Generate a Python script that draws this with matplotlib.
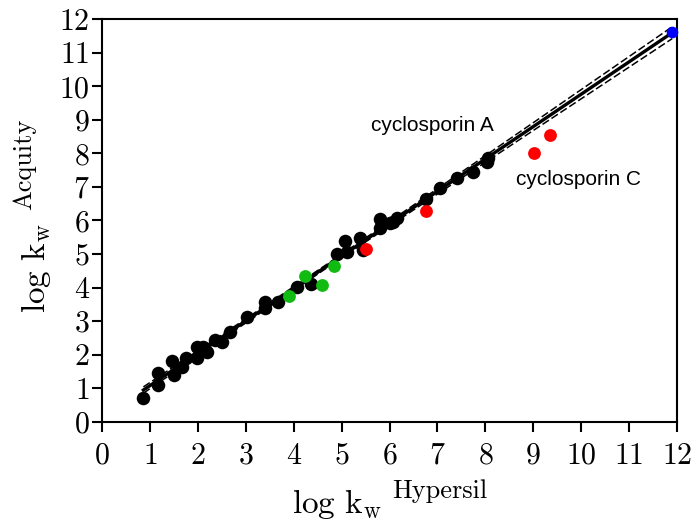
import numpy as np
import matplotlib
matplotlib.use("Agg")
import matplotlib.pyplot as plt

# log kw values
black_x = [0.86, 1.17, 1.17, 1.45, 1.49, 1.66, 1.76, 1.97, 1.97, 2.11, 2.18, 2.36, 2.50,
           2.67, 3.02, 3.40, 3.40, 3.68, 4.06, 4.36, 4.90, 5.07, 5.11, 5.38, 5.45,
           5.80, 5.80, 6.01, 6.15, 6.08, 6.76, 7.06, 7.40, 7.74, 8.04, 8.06]
black_y = [0.72, 1.09, 1.46, 1.81, 1.39, 1.64, 1.90, 2.24, 1.89, 2.24, 2.09, 2.44, 2.39,
           2.68, 3.11, 3.58, 3.38, 3.58, 4.01, 4.11, 4.99, 5.39, 5.07, 5.47, 5.12,
           6.05, 5.78, 5.92, 6.07, 5.96, 6.63, 6.96, 7.26, 7.46, 7.75, 7.86]
green_x = [3.89, 4.24, 4.58, 4.83]
green_y = [3.75, 4.35, 4.08, 4.64]
red_x = [5.50, 6.76, 9.02, 9.35]
red_y = [5.14, 6.28, 8.00, 8.55]
blue_x = [11.90]
blue_y = [11.63]

plt.rcParams['mathtext.fontset'] = 'cm'
plt.rcParams['axes.formatter.use_mathtext'] = True

fig = plt.figure(figsize=(6.97, 5.23), dpi=100)
ax = fig.add_axes([0.1466, 0.1937, 0.8247, 0.7695])

# regression through black, green and blue compounds (cyclosporins left out)
fx = np.array(black_x + green_x + blue_x)
fy = np.array(black_y + green_y + blue_y)
slope, icpt = np.polyfit(fx, fy, 1)
res = fy - (slope * fx + icpt)
n = len(fx)
s = np.sqrt(np.sum(res ** 2) / (n - 2))
sxx = np.sum((fx - fx.mean()) ** 2)
xx = np.linspace(fx.min(), fx.max(), 200)
yy = slope * xx + icpt
half = 2.0 * s * np.sqrt(1.0 / n + (xx - fx.mean()) ** 2 / sxx)

ax.plot(xx, yy, color='black', lw=2.4, zorder=2)
ax.plot(xx, yy + half, color='black', lw=1.1, ls=(0, (5, 2)), zorder=2)
ax.plot(xx, yy - half, color='black', lw=1.1, ls=(0, (5, 2)), zorder=2)

ax.scatter(black_x, black_y, s=95, color='black', zorder=3, linewidths=0)
ax.scatter(green_x, green_y, s=85, color='#11bb11', zorder=3, linewidths=0)
ax.scatter(red_x, red_y, s=85, color='#ff0000', zorder=4, linewidths=0)
ax.scatter(blue_x, blue_y, s=70, color='#0000ff', zorder=4, linewidths=0, clip_on=False)

ax.text(5.62, 8.84, 'cyclosporin A', fontsize=15, family='Liberation Sans', va='center')
ax.text(8.64, 7.21, 'cyclosporin C', fontsize=15, family='Liberation Sans', va='center')

ax.set_xlim(0, 12)
ax.set_ylim(0, 12)
ax.set_xticks(range(0, 13))
ax.set_yticks(range(0, 13))
ax.tick_params(direction='out', length=7.5, width=1.5, labelsize=21.5)
ax.tick_params(axis='x', pad=7.5)
ax.tick_params(axis='y', pad=1.5)
for lab in ax.get_xticklabels() + ax.get_yticklabels():
    lab.set_family('cmr10')
for sp in ax.spines.values():
    sp.set_linewidth(1.5)

# axis titles: log kw with the column name raised above it
fig.text(0.419, 0.019, r'$\mathrm{log\ k_w}$', fontsize=24,
         ha='left', va='baseline', rotation_mode='anchor')
fig.text(0.5624, 0.0478, 'Hypersil', fontsize=19, family='cmr10',
         ha='left', va='baseline', rotation_mode='anchor')
fig.text(0.0646, 0.4015, r'$\mathrm{log\ k_w}$', fontsize=24, rotation=90,
         ha='left', va='baseline', rotation_mode='anchor')
fig.text(0.0445, 0.598, 'Acquity', fontsize=19, family='cmr10', rotation=90,
         ha='left', va='baseline', rotation_mode='anchor')

fig.savefig('out.png', dpi=100)
